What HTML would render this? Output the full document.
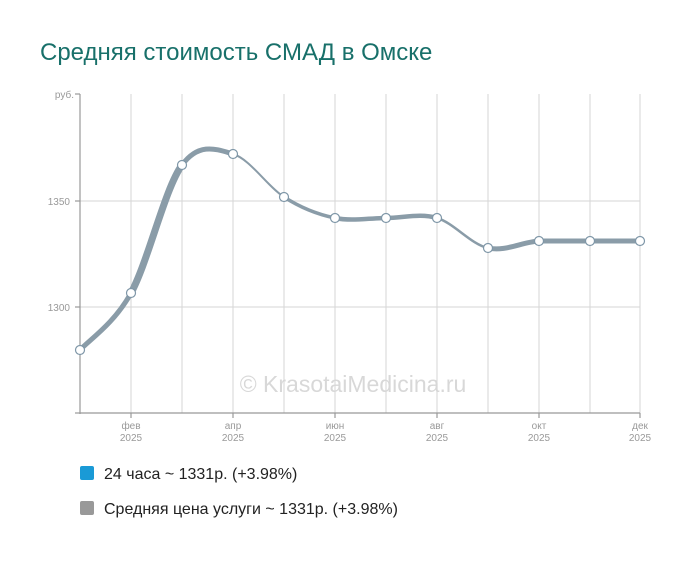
<!DOCTYPE html>
<html><head><meta charset="utf-8"><style>
body{margin:0;background:#fff;font-family:"Liberation Sans",sans-serif}
</style></head><body>
<svg width="700" height="557" xmlns="http://www.w3.org/2000/svg" font-family="Liberation Sans, sans-serif">
<rect width="700" height="557" fill="#fff"/>
<text x="40" y="60" font-size="24" fill="#18706a">Средняя стоимость СМАД в Омске</text>
<g stroke="#e3e3e3" stroke-width="1.5">
<line x1="80" y1="201" x2="640" y2="201"/><line x1="80" y1="307" x2="640" y2="307"/>
</g>
<g stroke="#d6d6d6" stroke-width="1">
<line x1="131" y1="94" x2="131" y2="413"/><line x1="182" y1="94" x2="182" y2="413"/>
<line x1="233" y1="94" x2="233" y2="413"/><line x1="284" y1="94" x2="284" y2="413"/>
<line x1="335" y1="94" x2="335" y2="413"/><line x1="386" y1="94" x2="386" y2="413"/>
<line x1="437" y1="94" x2="437" y2="413"/><line x1="488" y1="94" x2="488" y2="413"/>
<line x1="539" y1="94" x2="539" y2="413"/><line x1="590" y1="94" x2="590" y2="413"/>
<line x1="640" y1="94" x2="640" y2="413"/>
</g>
<g stroke="#999" stroke-width="1.2">
<line x1="80" y1="94" x2="80" y2="414"/><line x1="80" y1="413" x2="640" y2="413"/>
<line x1="75" y1="94" x2="80" y2="94"/><line x1="75" y1="201" x2="80" y2="201"/><line x1="75" y1="307" x2="80" y2="307"/><line x1="75" y1="413" x2="80" y2="413"/>
<line x1="131" y1="413" x2="131" y2="418"/><line x1="233" y1="413" x2="233" y2="418"/><line x1="335" y1="413" x2="335" y2="418"/><line x1="437" y1="413" x2="437" y2="418"/><line x1="539" y1="413" x2="539" y2="418"/><line x1="640" y1="413" x2="640" y2="418"/>
</g>
<g font-size="10" fill="#999" text-anchor="end">
<text x="74" y="98">руб.</text><text x="70" y="205">1350</text><text x="70" y="311">1300</text>
</g>
<g font-size="10" fill="#999" text-anchor="middle">
<text x="131" y="429">фев</text><text x="131" y="441">2025</text>
<text x="233" y="429">апр</text><text x="233" y="441">2025</text>
<text x="335" y="429">июн</text><text x="335" y="441">2025</text>
<text x="437" y="429">авг</text><text x="437" y="441">2025</text>
<text x="539" y="429">окт</text><text x="539" y="441">2025</text>
<text x="640" y="429">дек</text><text x="640" y="441">2025</text>
</g>
<text x="353" y="392" font-size="23" fill="#d8d8d8" text-anchor="middle">© KrasotaiMedicina.ru</text>
<g fill="none" stroke="#8a9ca8" stroke-linecap="round">
<path d="M80,350 C88.5,340.5 114,324 131,293" stroke-width="5"/>
<path d="M131,293 C148,262 165,188 182,165" stroke-width="7"/>
<path d="M182,165 C199,142 216,149 233,154" stroke-width="5"/>
<path d="M233,154 C250,159 267,186 284,197" stroke-width="2"/>
<path d="M284,197 C301,208 318,214.5 335,218" stroke-width="3.5"/>
<path d="M335,218 C352,221.5 369,218 386,218" stroke-width="4.5"/>
<path d="M386,218 C403,218 420,213 437,218" stroke-width="4.5"/>
<path d="M437,218 C454,223 471,244.5 488,248" stroke-width="2.5"/>
<path d="M488,248 C505,252 522,242 539,241" stroke-width="5"/>
<path d="M539,241 C556,241 573,241 590,241" stroke-width="5"/>
<path d="M590,241 C607,241 623,241 640,241" stroke-width="5"/>
</g>
<g fill="#fff" stroke="#7f97a8" stroke-width="1.2">
<circle cx="80" cy="350" r="4.5"/><circle cx="131" cy="293" r="4.5"/><circle cx="182" cy="165" r="4.5"/><circle cx="233" cy="154" r="4.5"/><circle cx="284" cy="197" r="4.5"/><circle cx="335" cy="218" r="4.5"/><circle cx="386" cy="218" r="4.5"/><circle cx="437" cy="218" r="4.5"/><circle cx="488" cy="248" r="4.5"/><circle cx="539" cy="241" r="4.5"/><circle cx="590" cy="241" r="4.5"/><circle cx="640" cy="241" r="4.5"/>
</g>
<rect x="80" y="466" width="14" height="14" rx="2" fill="#1a9ad6"/>
<text x="104" y="479" font-size="16" fill="#222">24 часа ~ 1331р. (+3.98%)</text>
<rect x="80" y="501" width="14" height="14" rx="2" fill="#999"/>
<text x="104" y="514" font-size="16" fill="#222">Средняя цена услуги ~ 1331р. (+3.98%)</text>
</svg>
</body></html>
